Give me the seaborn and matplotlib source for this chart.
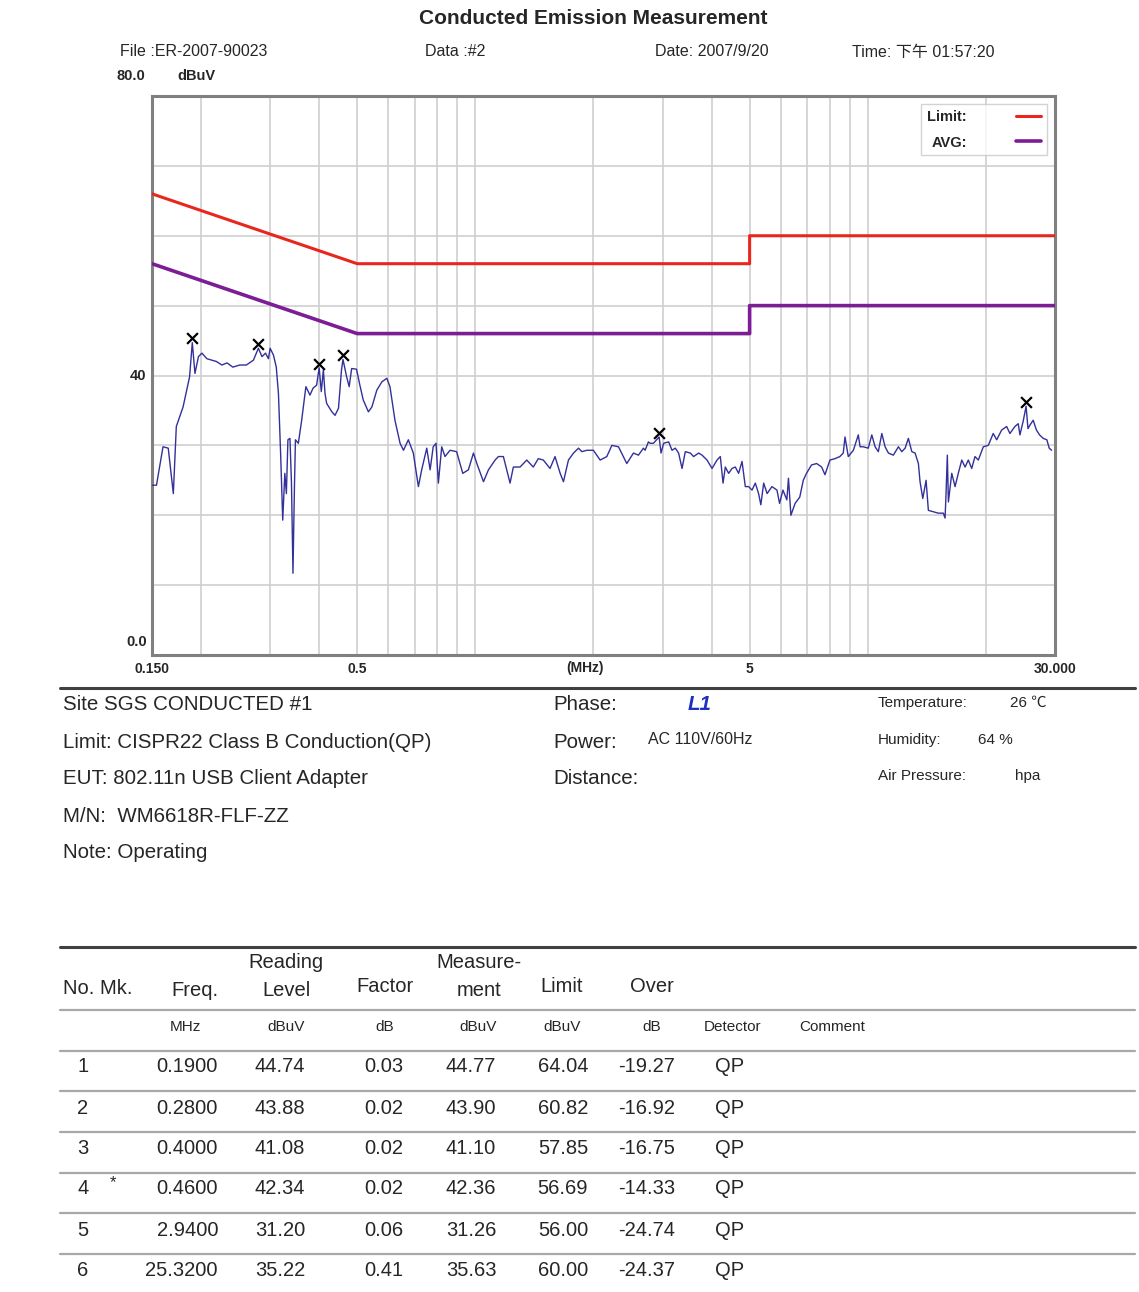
import matplotlib
matplotlib.use("Agg")
import matplotlib.pyplot as plt
import matplotlib.transforms as mtransforms
from matplotlib.lines import Line2D
from matplotlib.ticker import NullFormatter
import pandas as pd
import seaborn as sns

# ---------------- data ----------------
trace_freq = [0.150, 0.154, 0.160, 0.165, 0.170, 0.173, 0.180, 0.187, 0.190, 0.193, 0.197, 0.201,
              0.207, 0.219, 0.226, 0.233, 0.241, 0.251, 0.261, 0.272, 0.280, 0.286, 0.292, 0.297,
              0.300, 0.306, 0.311, 0.315, 0.319, 0.323, 0.327, 0.330, 0.333, 0.337, 0.340, 0.343,
              0.346, 0.348, 0.354, 0.361, 0.370, 0.379, 0.386, 0.394, 0.400, 0.405, 0.410, 0.414,
              0.418, 0.431, 0.439, 0.448, 0.456, 0.460, 0.470, 0.477, 0.484, 0.498, 0.508, 0.518,
              0.534, 0.545, 0.561, 0.578, 0.595, 0.606, 0.624, 0.643,
              0.656, 0.675, 0.695, 0.716, 0.730, 0.752, 0.767, 0.781, 0.794, 0.805, 0.821, 0.837,
              0.862, 0.896, 0.929, 0.960, 0.989, 1.009, 1.049, 1.080, 1.123, 1.145, 1.179, 1.226,
              1.250, 1.300, 1.352, 1.405, 1.447, 1.490, 1.550, 1.596, 1.645, 1.677, 1.727, 1.779,
              1.832, 1.869, 1.924, 1.999, 2.080, 2.163, 2.228, 2.316, 2.432, 2.529, 2.604, 2.681,
              2.708, 2.761, 2.789, 2.843, 2.940,
              2.973, 3.019, 3.109, 3.171, 3.233, 3.296, 3.363, 3.428, 3.530, 3.600, 3.707, 3.782,
              3.894, 4.010, 4.129, 4.210, 4.278, 4.335, 4.421, 4.509, 4.597, 4.687, 4.782, 4.875,
              4.971, 5.07, 5.17, 5.27, 5.34, 5.43, 5.54, 5.70, 5.87, 5.96, 6.08, 6.22, 6.28, 6.37,
              6.53, 6.71, 6.85, 6.98, 7.19, 7.41, 7.63, 7.78, 8.01, 8.25, 8.49, 8.66, 8.75, 8.92,
              9.19, 9.46, 9.56,
              9.74, 10.03, 10.24, 10.44, 10.64, 10.86, 11.07, 11.29, 11.62, 11.97, 12.21, 12.45,
              12.69, 12.95, 13.20, 13.46, 13.59, 13.81, 14.08, 14.27, 14.70, 15.13, 15.58, 15.74,
              15.83, 15.95, 16.05, 16.37, 16.69, 17.01, 17.36, 17.70, 18.04, 18.40, 18.76, 19.13,
              19.70, 20.28, 20.88, 21.31, 21.94, 22.59, 23.03, 23.71, 24.18, 24.42, 24.90, 25.32,
              25.60, 25.90, 26.40, 26.90, 27.40, 28.00, 28.60, 29.00, 29.40]
trace_level = [24.3, 24.3, 29.8, 29.6, 23.1, 32.7, 35.5, 39.8, 44.7, 40.3, 42.7, 43.2,
               42.4, 42.0, 41.5, 41.8, 41.2, 41.5, 41.5, 42.2, 43.9, 42.7, 43.2, 42.4,
               43.9, 42.9, 41.2, 37.4, 28.9, 19.3, 26.0, 23.1, 30.8, 31.0, 24.6, 11.7,
               24.1, 30.8, 30.3, 33.6, 38.4, 37.2, 38.2, 38.6, 41.1, 37.7, 40.8, 37.4,
               36.0, 34.8, 34.3, 35.3, 40.8, 42.3, 39.8, 38.4, 41.0, 40.9, 38.6, 36.5,
               34.8, 35.5, 37.9, 39.1, 39.6, 38.4, 33.6, 30.3,
               29.3, 30.8, 28.9, 24.1, 26.5, 29.6, 26.5, 29.8, 30.3, 24.6, 29.8, 28.4,
               29.3, 29.1, 26.0, 26.5, 28.9, 27.4, 24.8, 26.5, 27.9, 28.4, 28.4, 24.6,
               26.9, 26.9, 27.9, 26.9, 28.1, 27.9, 26.7, 28.4, 26.0, 24.8, 27.9, 28.9,
               29.6, 29.1, 29.3, 29.3, 27.9, 28.4, 30.0, 29.8, 27.4, 28.9, 28.6, 29.6,
               29.3, 30.5, 30.3, 30.3, 31.2,
               28.9, 30.3, 30.5, 29.3, 29.6, 28.9, 26.7, 29.1, 28.9, 28.4, 28.9, 28.6,
               27.9, 26.7, 27.9, 28.4, 24.6, 26.9, 26.0, 26.7, 26.9, 26.0, 27.7, 24.1,
               24.1, 23.6, 24.6, 23.1, 21.5, 24.6, 23.1, 24.1, 23.6, 21.7, 23.6, 22.2, 25.3, 20.0,
               21.7, 22.6, 25.0, 26.0, 27.2, 27.4, 26.9, 25.8, 27.9, 28.1, 28.4, 28.9, 31.2, 28.4,
               29.3, 31.5, 29.8,
               29.8, 29.6, 31.5, 29.8, 29.1, 31.7, 29.8, 28.9, 28.6, 29.8, 29.1, 29.6,
               31.0, 29.1, 28.9, 27.4, 24.8, 22.4, 25.0, 20.7, 20.5, 20.3, 20.3, 19.6,
               23.1, 28.6, 21.9, 26.0, 24.1, 26.0, 27.9, 26.9, 27.9, 26.7, 28.4, 27.9,
               29.8, 30.0, 31.7, 30.8, 32.2, 32.7, 31.7, 32.7, 33.1, 31.5, 33.5, 35.6,
               32.4, 32.9, 33.6, 32.2, 31.5, 31.0, 30.8, 29.6, 29.3]

limit_freq = [0.15, 0.5, 5.0, 5.0, 30.0]
qp_limit = [66.0, 56.0, 56.0, 60.0, 60.0]
avg_limit = [56.0, 46.0, 46.0, 50.0, 50.0]

peak_no = [1, 2, 3, 4, 5, 6]
peak_mk = ["", "", "", "*", "", ""]
peak_freq = [0.19, 0.28, 0.40, 0.46, 2.94, 25.32]
peak_reading = [44.74, 43.88, 41.08, 42.34, 31.20, 35.22]
peak_factor = [0.03, 0.02, 0.02, 0.02, 0.06, 0.41]
peak_measure = [44.77, 43.90, 41.10, 42.36, 31.26, 35.63]
peak_limit = [64.04, 60.82, 57.85, 56.69, 56.00, 60.00]
peak_over = [-19.27, -16.92, -16.75, -14.33, -24.74, -24.37]
peak_detector = ["QP", "QP", "QP", "QP", "QP", "QP"]

x_tick_values = [0.15, 0.5, 5, 30]
x_tick_labels = ["0.150", "0.5", "5", "30.000"]
x_grid_values = [0.2, 0.3, 0.4, 0.6, 0.7, 0.8, 0.9, 1, 2, 3, 4, 6, 7, 8, 9, 10, 20]
y_grid_values = [10, 20, 30, 40, 50, 60, 70]

# ---------------- style ----------------
sns.set_style("white")
FONT = ["Liberation Sans", "Noto Sans CJK SC", "DejaVu Sans"]
plt.rcParams["font.family"] = FONT

W, H = 1139, 1292
fig = plt.figure(figsize=(W / 100, H / 100), dpi=100)


def fx(x):
    return x / W


def fy(y):
    return 1 - y / H


ax = fig.add_axes([fx(152), fy(655), (1055 - 152) / W, (655 - 96) / H])

trace_df = pd.DataFrame({"freq": trace_freq, "level": trace_level})
limit_df = pd.DataFrame({"freq": limit_freq, "qp": qp_limit, "avg": avg_limit})

sns.lineplot(data=trace_df, x="freq", y="level", ax=ax, color="#33309a", linewidth=1.0,
             estimator=None, sort=False, legend=False, zorder=3)
sns.lineplot(data=limit_df, x="freq", y="qp", ax=ax, color="#e8261e", linewidth=2.2,
             estimator=None, sort=False, label="Limit:", zorder=4)
sns.lineplot(data=limit_df, x="freq", y="avg", ax=ax, color="#7d1d96", linewidth=2.6,
             estimator=None, sort=False, label="AVG:", zorder=4)

offset = mtransforms.ScaledTranslation(0, 4 / 100, fig.dpi_scale_trans)
sns.scatterplot(x=peak_freq, y=peak_measure, ax=ax, marker="x", s=60, color="black",
                linewidth=1.6, zorder=5, transform=ax.transData + offset)

ax.set_xscale("log")
ax.set_xlim(0.15, 30)
ax.set_ylim(0, 80)
ax.set_xlabel("")
ax.set_ylabel("")

ax.set_xticks(x_tick_values)
ax.set_xticklabels(x_tick_labels, fontsize=10, fontweight="bold")
ax.set_xticks(x_grid_values, minor=True)
ax.xaxis.set_minor_formatter(NullFormatter())
ax.set_yticks(y_grid_values)
ax.set_yticklabels([])
ax.tick_params(axis="both", which="both", length=0, pad=5)
ax.grid(True, axis="x", which="both", color="#cfcfcf", linewidth=1.2, zorder=0)
ax.grid(True, axis="y", which="major", color="#cfcfcf", linewidth=1.2, zorder=0)
for s in ax.spines.values():
    s.set_color("#808080")
    s.set_linewidth(2.2)

ax.text(0.4795, -0.0233, "(MHz)", transform=ax.transAxes, ha="center", va="center",
        fontsize=10, fontweight="bold")

ytr = mtransforms.blended_transform_factory(ax.transAxes, ax.transData)
ax.text(-0.006, 40, "40", transform=ytr, ha="right", va="center", fontsize=10.5, fontweight="bold")
ax.text(-0.005, 0.8, "0.0", transform=ytr, ha="right", va="bottom", fontsize=10.5, fontweight="bold")
ax.text(-0.008, 81.8, "80.0", transform=ytr, ha="right", va="bottom", fontsize=10.5, fontweight="bold")
ax.text(0.028, 81.8, "dBuV", transform=ytr, ha="left", va="bottom", fontsize=10.5, fontweight="bold")

leg = ax.legend(loc="upper right", markerfirst=False, handlelength=1.7, handletextpad=3.4,
                fontsize=10.5, frameon=True, fancybox=False, borderaxespad=0.55,
                labelspacing=0.8, borderpad=0.4)
leg.get_frame().set_edgecolor("#c8c8c8")
leg.get_frame().set_linewidth(1.0)
for t in leg.get_texts():
    t.set_fontweight("bold")

# ---------------- header ----------------
fig.text(fx(593), fy(18), "Conducted Emission Measurement", ha="center", va="center",
         fontsize=15, fontweight="bold")
fig.text(fx(120), fy(52), "File :ER-2007-90023", ha="left", va="center", fontsize=11.5)
fig.text(fx(425), fy(52), "Data :#2", ha="left", va="center", fontsize=11.5)
fig.text(fx(655), fy(52), "Date: 2007/9/20", ha="left", va="center", fontsize=11.5)
fig.text(fx(852), fy(52), "Time: 下午 01:57:20", ha="left", va="center", fontsize=11.5)

# ---------------- info block ----------------
fig.add_artist(Line2D([fx(60), fx(1135)], [fy(688), fy(688)], color="#404040", linewidth=2.2))
info_left = ["Site SGS CONDUCTED #1", "Limit: CISPR22 Class B Conduction(QP)",
             "EUT: 802.11n USB Client Adapter", "M/N:  WM6618R-FLF-ZZ", "Note: Operating"]
info_y = [705, 742, 779, 816, 853]
IS = 14.8
for txt, y in zip(info_left, info_y):
    fig.text(fx(63), fy(y), txt, ha="left", va="center", fontsize=IS)
fig.text(fx(553), fy(705), "Phase:", ha="left", va="center", fontsize=IS)
fig.text(fx(688), fy(705), "L1", ha="left", va="center", fontsize=IS, color="#1f2fbf",
         fontweight="bold", fontstyle="italic")
fig.text(fx(553), fy(742), "Power:", ha="left", va="center", fontsize=IS)
fig.text(fx(648), fy(739), "AC 110V/60Hz", ha="left", va="center", fontsize=11.5)
fig.text(fx(553), fy(779), "Distance:", ha="left", va="center", fontsize=IS)
fig.text(fx(878), fy(703), "Temperature:", ha="left", va="center", fontsize=11)
fig.text(fx(1010), fy(703), "26 ℃", ha="left", va="center", fontsize=11)
fig.text(fx(878), fy(740), "Humidity:", ha="left", va="center", fontsize=11)
fig.text(fx(978), fy(740), "64 %", ha="left", va="center", fontsize=11)
fig.text(fx(878), fy(776), "Air Pressure:", ha="left", va="center", fontsize=11)
fig.text(fx(1015), fy(776), "hpa", ha="left", va="center", fontsize=11)

# ---------------- table ----------------
fig.add_artist(Line2D([fx(60), fx(1135)], [fy(947), fy(947)], color="#404040", linewidth=2.2))
for y in [1010, 1051, 1091, 1132, 1173, 1213, 1254]:
    fig.add_artist(Line2D([fx(60), fx(1135)], [fy(y), fy(y)], color="#a8a8a8", linewidth=1.6))

HS = 14.5
fig.text(fx(63), fy(988), "No. Mk.", ha="left", va="center", fontsize=HS)
fig.text(fx(195), fy(990), "Freq.", ha="center", va="center", fontsize=HS)
fig.text(fx(286), fy(963), "Reading", ha="center", va="center", fontsize=HS)
fig.text(fx(286), fy(991), "Level", ha="center", va="center", fontsize=HS)
fig.text(fx(385), fy(986), "Factor", ha="center", va="center", fontsize=HS)
fig.text(fx(479), fy(963), "Measure-", ha="center", va="center", fontsize=HS)
fig.text(fx(479), fy(991), "ment", ha="center", va="center", fontsize=HS)
fig.text(fx(562), fy(986), "Limit", ha="center", va="center", fontsize=HS)
fig.text(fx(652), fy(986), "Over", ha="center", va="center", fontsize=HS)

units = [("MHz", 185), ("dBuV", 286), ("dB", 385), ("dBuV", 478), ("dBuV", 562),
         ("dB", 652), ("Detector", 733), ("Comment", 832)]
for u, x in units:
    fig.text(fx(x), fy(1027), u, ha="center", va="center", fontsize=11)

row_y = [1067, 1108, 1149, 1189, 1230, 1271]
RS = 14.5
for i, y in enumerate(row_y):
    fig.text(fx(83), fy(y), str(peak_no[i]), ha="center", va="center", fontsize=RS)
    if peak_mk[i]:
        fig.text(fx(113), fy(y - 6), peak_mk[i], ha="center", va="center", fontsize=12)
    fig.text(fx(218), fy(y), f"{peak_freq[i]:.4f}", ha="right", va="center", fontsize=RS)
    fig.text(fx(280), fy(y), f"{peak_reading[i]:.2f}", ha="center", va="center", fontsize=RS)
    fig.text(fx(384), fy(y), f"{peak_factor[i]:.2f}", ha="center", va="center", fontsize=RS)
    fig.text(fx(471), fy(y), f"{peak_measure[i]:.2f}", ha="center", va="center", fontsize=RS)
    fig.text(fx(563), fy(y), f"{peak_limit[i]:.2f}", ha="center", va="center", fontsize=RS)
    fig.text(fx(647), fy(y), f"{peak_over[i]:.2f}", ha="center", va="center", fontsize=RS)
    fig.text(fx(730), fy(y), peak_detector[i], ha="center", va="center", fontsize=RS)

fig.savefig("out.png", dpi=100, facecolor="white")
